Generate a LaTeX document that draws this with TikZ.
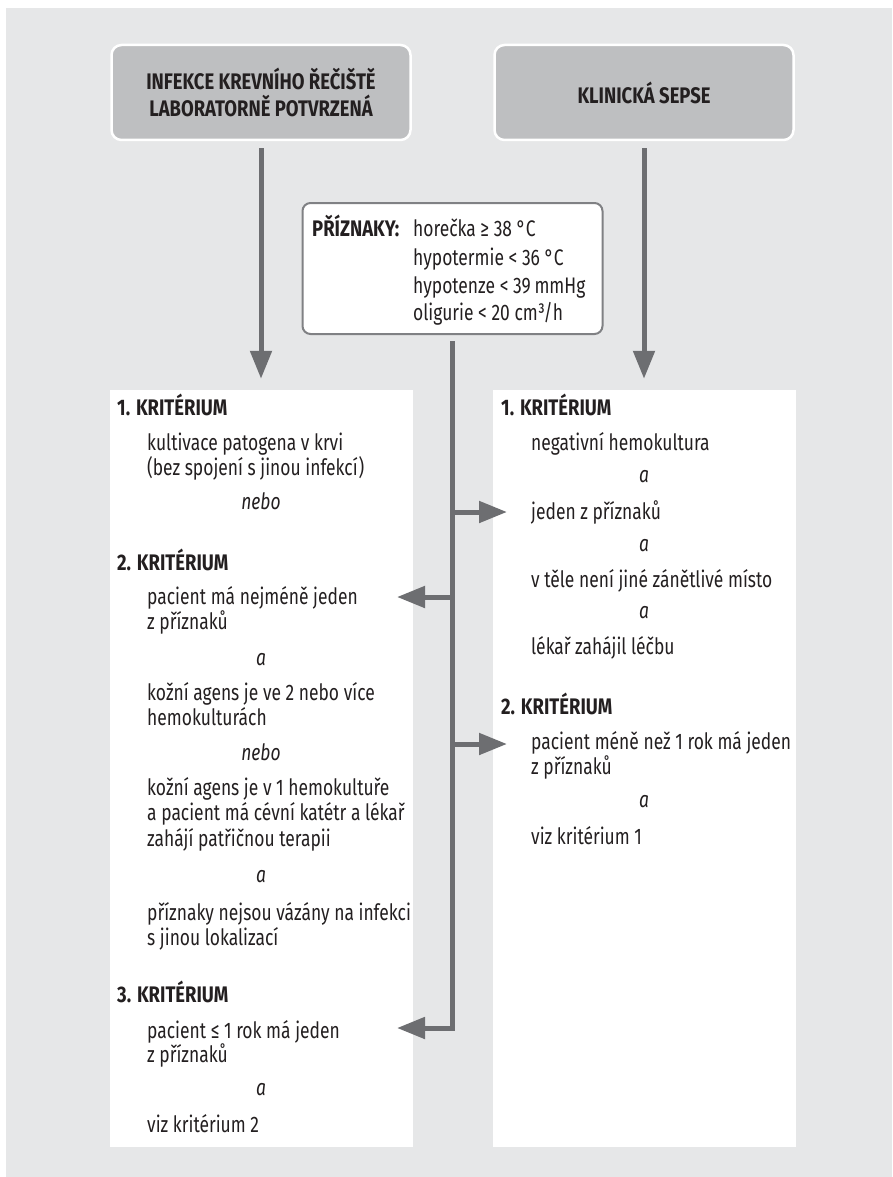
\documentclass[tikz,border=0pt]{standalone}
\usepackage{fontspec}
\setmainfont{Fira Sans}[UprightFeatures={FakeStretch=0.775},BoldFeatures={FakeStretch=0.82},ItalicFeatures={FakeStretch=0.775}]
\usetikzlibrary{arrows.meta}
\definecolor{bggray}{RGB}{230,231,232}
\definecolor{hdrgray}{RGB}{190,191,193}
\definecolor{arrgray}{RGB}{109,110,113}
\definecolor{boxline}{RGB}{128,129,132}
\definecolor{ink}{RGB}{35,31,32}
\begin{document}
\begin{tikzpicture}[x=1pt,y=-1pt,
  every node/.style={text=ink, inner sep=0pt, font=\fontsize{22.5}{25}\selectfont},
  hdrbox/.style={draw=white, line width=2.5pt, fill=hdrgray, rounded corners=10pt,
    minimum width=299pt, minimum height=95pt, align=center,
    font=\bfseries\fontsize{22.5}{27}\selectfont},
  panel/.style={fill=white, minimum width=303pt, minimum height=757pt},
  symbox/.style={draw=boxline, line width=2pt, fill=white, rounded corners=8pt,
    minimum width=300pt, minimum height=131pt},
  crit/.style={anchor=base west, font=\bfseries\fontsize{22.5}{25}\selectfont},
  txt/.style={anchor=base west},
  conj/.style={anchor=base, font=\itshape\fontsize{22.5}{25}\selectfont},
  arr/.style={draw=arrgray, line width=5pt, line join=miter,
    -{Triangle[length=28pt,width=21pt]}}
]
\useasboundingbox (0,0) rectangle (892,1177);
\fill[bggray] (6,8) rectangle (892,1177);

% headers
\node[hdrbox] (h1) at (261,92.5) {INFEKCE KREVNÍHO ŘEČIŠTĚ\\LABORATORNĚ POTVRZENÁ};
\node[hdrbox] (h2) at (644,92.5) {KLINICKÁ SEPSE};

% panels
\node[panel] (lp) at (261,768.5) {};
\node[panel] (rp) at (644,768.5) {};

% symptoms box
\node[symbox] (pz) at (452.5,268.5) {};
\node[crit] (pzt) at (312,236) {PŘÍZNAKY:};
\node[txt] (pz1) at (413,236) {horečka ≥ 38 °C};
\node[txt] (pz2) at (413,265) {hypotermie < 36 °C};
\node[txt] (pz3) at (413,293) {hypotenze < 39\,mmHg};
\node[txt] (pz4) at (413,320) {oligurie < 20 cm³/h};

% vertical arrows
\draw[arr] ([yshift=-7pt]h1.south) -- ([yshift=11pt]lp.north);
\draw[arr] ([yshift=-7pt]h2.south) -- ([yshift=11pt]rp.north);

% trunk and branches
\coordinate (t0) at ([yshift=-6pt]pz.south);
\coordinate (c1) at (507,512);
\coordinate (c2) at (397,597);
\coordinate (c3) at (507,744);
\coordinate (c4) at (397,1028);
\draw[arr] (t0) |- (c4);
\draw[arr] (t0 |- c1) -- (c1);
\draw[arr] (t0 |- c2) -- (c2);
\draw[arr] (t0 |- c3) -- (c3);

% left panel text
\node[crit] (l1) at (117,415) {1. KRITÉRIUM};
\node[txt] (l2) at (147,450) {kultivace patogena v krvi};
\node[txt] (l3) at (147,475) {(bez spojení s jinou infekcí)};
\node[conj] (l4) at (261,509) {nebo};
\node[crit] (l5) at (117,570) {2. KRITÉRIUM};
\node[txt] (l6) at (147,604) {pacient má nejméně jeden};
\node[txt] (l7) at (147,629) {z příznaků};
\node[conj] (l8) at (261,665) {a};
\node[txt] (l9) at (147,700) {kožní agens je ve 2 nebo více};
\node[txt] (l10) at (147,725) {hemokulturách};
\node[conj] (l11) at (261,760) {nebo};
\node[txt] (l12) at (147,795) {kožní agens je v 1 hemokultuře};
\node[txt] (l13) at (147,820) {a pacient má cévní katétr a lékař};
\node[txt] (l14) at (147,846) {zahájí patřičnou terapii};
\node[conj] (l15) at (261,882) {a};
\node[txt] (l16) at (147,920) {příznaky nejsou vázány na infekci};
\node[txt] (l17) at (147,945) {s jinou lokalizací};
\node[crit] (l18) at (117,1002) {3. KRITÉRIUM};
\node[txt] (l19) at (147,1038) {pacient ≤ 1 rok má jeden};
\node[txt] (l20) at (147,1062) {z příznaků};
\node[conj] (l21) at (261,1095) {a};
\node[txt] (l22) at (147,1132) {viz kritérium 2};

% right panel text
\node[crit] (r1) at (501,415) {1. KRITÉRIUM};
\node[txt] (r2) at (531,450) {negativní hemokultura};
\node[conj] (r3) at (644,482) {a};
\node[txt] (r4) at (531,519) {jeden z příznaků};
\node[conj] (r5) at (644,551) {a};
\node[txt] (r6) at (531,587) {v těle není jiné zánětlivé místo};
\node[conj] (r7) at (644,618) {a};
\node[txt] (r8) at (531,654) {lékař zahájil léčbu};
\node[crit] (r9) at (501,714) {2. KRITÉRIUM};
\node[txt] (r10) at (531,749) {pacient méně než 1 rok má jeden};
\node[txt] (r11) at (531,774) {z příznaků};
\node[conj] (r12) at (644,807) {a};
\node[txt] (r13) at (531,844) {viz kritérium 1};
\end{tikzpicture}
\end{document}
